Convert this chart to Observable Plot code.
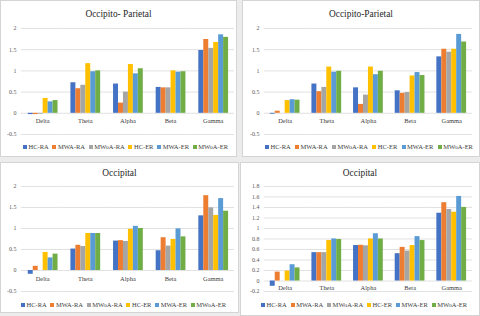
<!DOCTYPE html>
<html><head><meta charset="utf-8">
<script src="https://cdn.jsdelivr.net/npm/d3@7"></script>
<script src="https://cdn.jsdelivr.net/npm/@observablehq/plot@0.6"></script>
<style>
html,body{margin:0;padding:0;background:#ececec;}
#root{position:relative;width:480px;height:316px;overflow:hidden;background:#ececec;font-family:"Liberation Serif","Times New Roman",serif;}
.panel{position:absolute;background:#fff;border:1px solid #d4d4d4;box-sizing:border-box;}
.title{position:absolute;left:0;right:0;text-align:center;font-size:11px;color:#262626;line-height:1;transform:scaleX(0.85);transform-origin:50% 50%;}
.legend{position:absolute;display:flex;justify-content:space-between;align-items:center;font-size:6.5px;color:#404040;line-height:1;}
.legend span.item{display:flex;align-items:center;white-space:nowrap;}
.legend i{display:inline-block;width:4px;height:4px;margin-right:1.5px;}
svg{position:absolute;overflow:visible;}
</style></head>
<body><div id="root"></div>
<script>
const bands = ["Delta","Theta","Alpha","Beta","Gamma"];
const series = ["HC-RA","MWA-RA","MWoA-RA","HC-ER","MWA-ER","MWoA-ER"];
const colors = ["#4472C4","#ED7D31","#A5A5A5","#FFC000","#5B9BD5","#70AD47"];

// values per band (rows) in series order (columns)
const occipitoParietalA = [
  [-0.03,-0.03,-0.02,0.35,0.27,0.30],
  [0.72,0.58,0.66,1.17,0.98,1.00],
  [0.69,0.24,0.50,1.15,0.93,1.05],
  [0.61,0.60,0.60,1.00,0.97,0.98],
  [1.48,1.74,1.53,1.67,1.85,1.79]
];
const occipitoParietalB = [
  [-0.02,0.05,0.00,0.30,0.32,0.31],
  [0.69,0.51,0.61,1.09,0.97,0.99],
  [0.60,0.21,0.43,1.09,0.91,0.99],
  [0.53,0.47,0.49,0.88,0.96,0.89],
  [1.33,1.51,1.44,1.51,1.86,1.68]
];
const occipitalA = [
  [-0.09,0.10,0.00,0.43,0.30,0.39],
  [0.51,0.60,0.57,0.88,0.88,0.88],
  [0.70,0.71,0.69,0.98,1.05,1.00],
  [0.47,0.78,0.58,0.74,0.99,0.80],
  [1.30,1.78,1.49,1.31,1.71,1.41]
];
const occipitalB = [
  [-0.10,0.17,0.00,0.19,0.31,0.25],
  [0.54,0.54,0.54,0.77,0.80,0.79],
  [0.675,0.68,0.67,0.80,0.90,0.80],
  [0.52,0.64,0.57,0.675,0.845,0.77],
  [1.29,1.49,1.36,1.31,1.61,1.40]
];
const ticksHalf = [-0.5,0,0.5,1,1.5,2];
const ticksFifth = [-0.2,0,0.2,0.4,0.6,0.8,1,1.2,1.4,1.6,1.8];

const panels = [
  {title:"Occipito- Parietal", data:occipitoParietalA, ticks:ticksHalf, box:[0,0,237,157],
   svgTop:20, height:120, mt:7, mb:6, ml:20, mr:2, titleY:7, legend:[22,227,143], dy:8},
  {title:"Occipito-Parietal", data:occipitoParietalB, ticks:ticksHalf, box:[242,0,238,157],
   svgTop:20, height:120, mt:7, mb:6, ml:19, mr:5, titleY:7, legend:[22,230,143], dy:8},
  {title:"Occipital", data:occipitalA, ticks:ticksHalf, box:[0,162,239,151],
   svgTop:14, height:121, mt:9, mb:6, ml:20, mr:4, titleY:4, legend:[20,225,139], dy:8},
  {title:"Occipital", data:occipitalB, ticks:ticksFifth, box:[240,162,240,154],
   svgTop:14, height:121, mt:9, mb:6, ml:21, mr:5, titleY:4, legend:[20,226,139], dy:7}
];

const root = document.getElementById("root");
for (const p of panels) {
  const [L,T,W,H] = p.box;
  const div = document.createElement("div");
  div.className = "panel";
  Object.assign(div.style,{left:L+"px",top:T+"px",width:W+"px",height:H+"px"});
  const t = document.createElement("div");
  t.className = "title"; t.textContent = p.title; t.style.top = p.titleY+"px";
  div.appendChild(t);

  const rows = [];
  bands.forEach((b,i)=>series.forEach((s,j)=>rows.push({band:b, series:s, value:p.data[i][j]})));
  const yMin = p.ticks[0], yMax = p.ticks[p.ticks.length-1];
  const plot = Plot.plot({
    width: W, height: p.height,
    marginLeft: p.ml, marginRight: p.mr, marginTop: p.mt, marginBottom: p.mb,
    style: {fontFamily:'"Liberation Serif","Times New Roman",serif', background:"transparent"},
    fx: {domain: bands, padding: 0, axis: null, label: null},
    x: {domain: series, paddingInner: 0, paddingOuter: 0.7, axis: null},
    y: {domain: [yMin, yMax], axis: null},
    color: {domain: series, range: colors},
    marks: [
      Plot.ruleY(p.ticks, {stroke:"#d9d9d9", strokeWidth:0.8}),
      Plot.axisY(p.ticks, {anchor:"left", tickSize:0, tickPadding:5, fontSize:6, fill:"#595959",
        label:null, tickFormat: d => String(+d.toFixed(1))}),
      Plot.barY(rows, {fx:"band", x:"series", y:"value", fill:"series"}),
      Plot.text(bands, {fx: d => d, y: d => 0, text: d => d, dy: p.dy, fontSize: 6.5, fill:"#404040"})
    ]
  });
  plot.style.left = "0px"; plot.style.top = p.svgTop+"px";
  div.appendChild(plot);

  const lg = document.createElement("div");
  lg.className = "legend";
  const [lx0,lx1,ly] = p.legend;
  Object.assign(lg.style,{left:lx0+"px",width:(lx1-lx0)+"px",top:ly+"px"});
  series.forEach((s,j)=>{
    const it = document.createElement("span"); it.className="item";
    const sw = document.createElement("i"); sw.style.background = colors[j];
    it.appendChild(sw); it.appendChild(document.createTextNode(s));
    lg.appendChild(it);
  });
  div.appendChild(lg);
  root.appendChild(div);
}
</script></body></html>
